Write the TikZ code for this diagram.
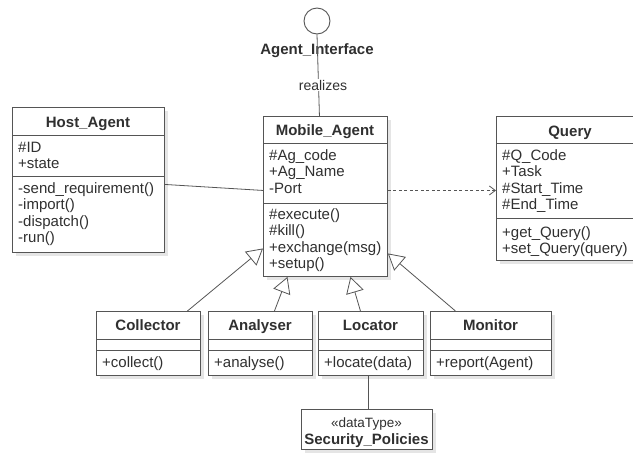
\documentclass[tikz,border=0pt]{standalone}
\usepackage{fontspec}
\setmainfont{Liberation Sans}
\usetikzlibrary{arrows.meta,shadows}
\definecolor{umlline}{HTML}{555555}
\definecolor{umltext}{HTML}{303030}
\tikzset{
  classbox/.style={draw=umlline, line width=0.9pt, fill=white, rectangle,
    inner sep=0pt, anchor=north west,
    drop shadow={shadow xshift=4pt, shadow yshift=-4pt, fill=black!10, opacity=1}},
  divider/.style={draw=umlline, line width=0.9pt},
  classname/.style={font=\fontsize{15}{17}\selectfont\bfseries, text=umltext,
    anchor=base, inner sep=0pt},
  member/.style={font=\fontsize{15}{17}\selectfont, text=umltext,
    anchor=base west, inner sep=0pt},
  conn/.style={draw=umlline, line width=0.8pt},
  inherit/.style={conn, -{Triangle[fill=white, length=16pt, width=18pt]}},
  depend/.style={conn, dash pattern=on 3pt off 2.5pt,
    -{Straight Barb[length=6pt, width=9pt]}},
}
% one member per line, 16.6pt apart, first baseline at (x,y)
\newcommand\memberrows[4]{%
  \foreach \mtext [count=\mi from 0] in {#4}
    {\node[member] (#1-\mi) at (#2, {#3+\mi*16.6}) {\mtext};}}
% horizontal compartment line at a given distance below a box's top
\newcommand\compartment[2]{%
  \draw[divider] ([yshift=-#2pt]#1.north west) -- ([yshift=-#2pt]#1.north east);}

\begin{document}
\begin{tikzpicture}[x=1pt, y=-1pt]
  \useasboundingbox (0,0) rectangle (633,453);
  \fill[white] (0,0) rectangle (633,453);
  \clip (0,0) rectangle (633,453);

  % ---------- interface lollipop ----------
  \node[circle, draw=umlline, line width=0.9pt, fill=white, minimum size=26pt,
        inner sep=0pt] (iface) at (317,21) {};
  \node[classname] (ifacename) at (317,54) {Agent\_Interface};

  % ---------- Host_Agent ----------
  \node[classbox, minimum width=152pt, minimum height=145pt] (host) at (12,107) {};
  \compartment{host}{28}
  \compartment{host}{69}
  \node[classname] (host-title) at (88,127) {Host\_Agent};
  \memberrows{host-a}{18}{152}{\#ID, +state}
  \memberrows{host-m}{18}{193}{-send\_requirement(), -import(), -dispatch(), -run()}

  % ---------- Mobile_Agent ----------
  \node[classbox, minimum width=124pt, minimum height=160pt] (mobile) at (263,116) {};
  \compartment{mobile}{27}
  \compartment{mobile}{87}
  \node[classname] (mobile-title) at (325,135) {Mobile\_Agent};
  \memberrows{mobile-a}{269}{160}{\#Ag\_code, +Ag\_Name, -Port}
  \memberrows{mobile-m}{269}{219}{\#execute(), \#kill(), +exchange(msg), +setup()}

  % ---------- Query ----------
  \node[classbox, minimum width=148pt, minimum height=144pt] (query) at (496,116) {};
  \compartment{query}{27}
  \compartment{query}{102}
  \node[classname] (query-title) at (570,136) {Query};
  \memberrows{query-a}{502}{160}{\#Q\_Code, +Task, \#Start\_Time, \#End\_Time}
  \memberrows{query-m}{502}{237}{+get\_Query(), +set\_Query(query)}

  % ---------- specialised agents ----------
  \node[classbox, minimum width=104pt, minimum height=64pt] (coll) at (96,311) {};
  \node[classbox, minimum width=104pt, minimum height=64pt] (anal) at (208,311) {};
  \node[classbox, minimum width=105pt, minimum height=64pt] (loc) at (318,311) {};
  \node[classbox, minimum width=121pt, minimum height=64pt] (mon) at (430,311) {};
  \foreach \b in {coll, anal, loc, mon} {\compartment{\b}{28}\compartment{\b}{39}}
  \node[classname] (coll-title) at (148,330) {Collector};
  \node[classname] (anal-title) at (260,330) {Analyser};
  \node[classname] (loc-title) at (370.5,330) {Locator};
  \node[classname] (mon-title) at (490.5,330) {Monitor};
  \memberrows{coll-m}{102}{367}{+collect()}
  \memberrows{anal-m}{214}{367}{+analyse()}
  \memberrows{loc-m}{324}{367}{+locate(data)}
  \memberrows{mon-m}{436}{367}{+report(Agent)}

  % ---------- data type ----------
  \node[classbox, minimum width=131pt, minimum height=40pt] (sec) at (301,409) {};
  \node[font=\fontsize{13.5}{15}\selectfont, text=umltext, anchor=base, inner sep=0pt]
    (sec-stereo) at (366.5,427.5) {«dataType»};
  \node[classname] (sec-title) at (366.5,444) {Security\_Policies};

  % ---------- connectors ----------
  \draw[conn] (iface.south) -- ([xshift=-6pt]mobile.north);
  \node[fill=white, inner sep=1pt, font=\fontsize{14}{16}\selectfont, text=umltext]
    (realizes) at (323,85) {realizes};

  \draw[conn] ([yshift=-4.5pt]host.east) -- ([yshift=6pt]mobile.west);
  \draw[depend] ([yshift=6pt]mobile.east) -- ([yshift=6pt]mobile.east -| query.west);

  \draw[inherit] ([xshift=39pt]coll.north) -- ([yshift=-52pt]mobile.west);
  \draw[inherit] ([xshift=14pt]anal.north) -- ([xshift=-38pt]mobile.south);
  \draw[inherit] ([xshift=-10.5pt]loc.north) -- ([xshift=25pt]mobile.south);
  \draw[inherit] ([xshift=-35.5pt]mon.north) -- ([yshift=-57pt]mobile.east);

  \draw[conn] ([xshift=1.5pt]sec.north) -- ([xshift=1.5pt]sec.north |- loc.south);
\end{tikzpicture}
\end{document}
